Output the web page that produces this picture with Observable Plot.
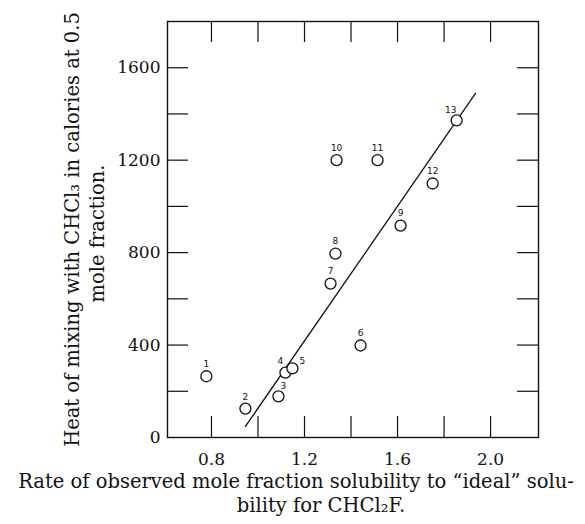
<!DOCTYPE html>
<html>
<head>
<meta charset="utf-8">
<script src="https://cdn.jsdelivr.net/npm/d3@7"></script>
<script src="https://cdn.jsdelivr.net/npm/@observablehq/plot@0.6"></script>
<style>
  html, body { margin: 0; padding: 0; background: #fff; }
</style>
</head>
<body>
<div id="chart"></div>
<script>
// Data
const pointIds = ["1","2","3","4","5","6","7","8","9","10","11","12","13"];
const ratioValues = [0.778, 0.946, 1.088, 1.118, 1.148, 1.441, 1.312, 1.333, 1.613, 1.338, 1.514, 1.751, 1.854];
const heatValues = [265, 125, 178, 281, 299, 398, 666, 796, 917, 1200, 1200, 1099, 1372];

const fitLineX = [0.946, 1.935];
const fitLineY = [48, 1489];

const xTickValues = [0.8, 1.0, 1.2, 1.4, 1.6, 1.8, 2.0];
const xTickLabels = [0.8, 1.2, 1.6, 2.0];
const yTickValues = [200, 400, 600, 800, 1000, 1200, 1400, 1600];
const yTickLabels = [0, 400, 800, 1200, 1600];

const yLabelLine1 = "Heat of mixing with CHCl\u2083 in calories at 0.5";
const yLabelLine2 = "mole fraction.";
const xLabelLine1 = "Rate of observed mole fraction solubility to \u201cideal\u201d solu-";
const xLabelLine2 = "bility for CHCl\u2082F.";

const points = pointIds.map((id, i) => ({id, x: ratioValues[i], y: heatValues[i]}));
const fitLine = fitLineX.map((x, i) => ({x, y: fitLineY[i]}));

const W = 585, H = 524;
const mL = 167, mR = 47, mT = 21, mB = 87;
const frameW = W - mL - mR, frameH = H - mT - mB;
const tickLen = 21;

const labelOffsets = {"3": [5, -10], "4": [-5, -11], "5": [10, -7], "13": [-6, -10]};

const chart = Plot.plot({
  width: W,
  height: H,
  marginLeft: mL,
  marginRight: mR,
  marginTop: mT,
  marginBottom: mB,
  style: {fontFamily: "'DejaVu Serif', serif", fontSize: "17px", color: "#111", background: "#fff"},
  x: {domain: [0.611, 2.206]},
  y: {domain: [0, 1800]},
  marks: [
    Plot.frame({stroke: "#111", strokeWidth: 1.4}),
    // inward ticks: bottom, top, left, right
    Plot.ruleX(xTickValues, {x: d => d, insetTop: frameH - tickLen, stroke: "#111", strokeWidth: 1.2}),
    Plot.ruleX(xTickValues, {x: d => d, insetBottom: frameH - tickLen, stroke: "#111", strokeWidth: 1.2}),
    Plot.ruleY(yTickValues, {y: d => d, insetRight: frameW - tickLen, stroke: "#111", strokeWidth: 1.2}),
    Plot.ruleY(yTickValues, {y: d => d, insetLeft: frameW - tickLen, stroke: "#111", strokeWidth: 1.2}),
    Plot.axisX(xTickLabels, {tickSize: 0, tickPadding: 15, tickFormat: d3.format(".1f"), label: null}),
    Plot.axisY(yTickLabels, {tickSize: 0, tickPadding: 7, tickFormat: d => String(d), label: null}),
    Plot.line(fitLine, {x: "x", y: "y", stroke: "#111", strokeWidth: 1.3}),
    Plot.dot(points, {x: "x", y: "y", r: 5.5, stroke: "#111", fill: "#fff", strokeWidth: 1.3}),
    Plot.text(points, {
      x: "x", y: "y", text: "id",
      fontFamily: "'DejaVu Sans', sans-serif", fontSize: 9, fill: "#111",
      dx: 0, dy: -12,
      filter: d => !(d.id in labelOffsets)
    }),
    ...Object.keys(labelOffsets).map(id => Plot.text(points.filter(d => d.id === id), {
      x: "x", y: "y", text: "id",
      fontFamily: "'DejaVu Sans', sans-serif", fontSize: 9, fill: "#111",
      dx: labelOffsets[id][0], dy: labelOffsets[id][1]
    })),
    Plot.text([yLabelLine1], {text: d => d, frameAnchor: "left", textAnchor: "middle", rotate: -90, dx: -95, dy: 0, fontSize: 19.5, fill: "#111"}),
    Plot.text([yLabelLine2], {text: d => d, frameAnchor: "left", textAnchor: "middle", rotate: -90, dx: -70, dy: 4, fontSize: 19.5, fill: "#111"}),
    Plot.text([xLabelLine1], {text: d => d, frameAnchor: "bottom", textAnchor: "middle", dx: -57, dy: 50, fontSize: 19.5, fill: "#111"}),
    Plot.text([xLabelLine2], {text: d => d, frameAnchor: "bottom", textAnchor: "middle", dx: -32, dy: 74, fontSize: 19.5, fill: "#111"})
  ]
});
document.getElementById("chart").appendChild(chart);
</script>
</body>
</html>
